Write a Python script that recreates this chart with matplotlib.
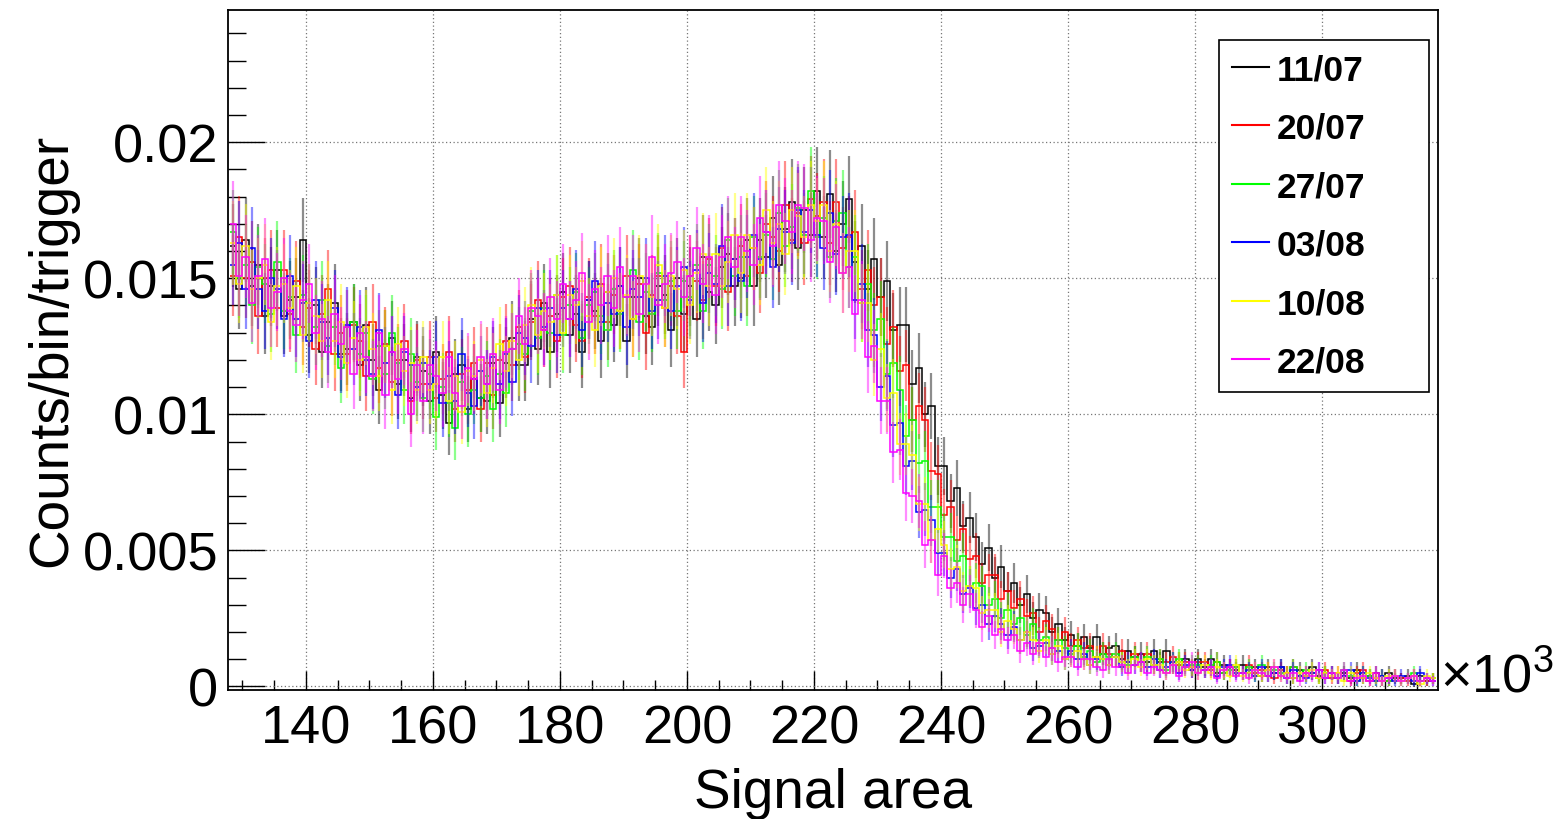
import numpy as np
import matplotlib
matplotlib.use('Agg')
import matplotlib.pyplot as plt
from matplotlib.lines import Line2D
from matplotlib.ticker import MultipleLocator, FuncFormatter

plt.rcParams['font.family'] = ['Liberation Sans', 'DejaVu Sans']
plt.rcParams['mathtext.fontset'] = 'custom'
plt.rcParams['mathtext.rm'] = 'Liberation Sans'

# binning of the signal area histograms (first bin edge, bin width)
bin_lo = 128000
bin_width = 1000

labels = ['11/07', '20/07', '27/07', '03/08', '10/08', '22/08']
colors = ['black', '#ff0000', '#00ff00', '#0000ff', '#ffff00', '#ff00ff']

# counts/bin/trigger, in units of 1e-4, one value per bin (128k .. 318k)
d_1107 = [162, 146, 164, 147, 155, 136, 147, 153, 136, 142,
          143, 164, 129, 140, 123, 134, 141, 122, 124, 134,
          118, 133, 120, 109, 125, 128, 111, 120, 106, 121,
          116, 105, 123, 107, 97, 115, 118, 102, 113, 106,
          105, 119, 104, 119, 128, 118, 118, 135, 124, 141,
          123, 137, 145, 129, 137, 123, 142, 138, 127, 145,
          133, 147, 127, 143, 150, 136, 132, 147, 144, 131,
          150, 137, 147, 135, 158, 145, 140, 154, 159, 147,
          150, 164, 147, 164, 158, 172, 155, 168, 178, 161,
          175, 166, 182,
          165, 181, 160, 170, 179, 156, 162, 146, 157, 143,
          149, 131, 133, 133, 111, 117, 100, 103, 81, 81,
          68, 73, 59, 62, 55, 45, 51, 40, 44, 35,
          38, 30, 34, 25, 28, 27, 20, 23, 17, 19,
          15, 18, 14, 18, 12, 14, 15, 10, 13, 11,
          12, 9, 13, 9, 13, 8, 9, 10, 7, 10,
          7, 10, 5, 8, 7, 6, 8, 5, 7, 4,
          7, 5, 7, 5, 3, 6, 4, 7, 4, 5,
          5, 3, 5, 3, 6, 3, 4, 5, 2, 5,
          3, 3, 4, 1, 4, 2, 3]

d_2007 = [151, 165, 150, 156, 136, 150, 153, 139, 153, 137,
          149, 132, 139, 124, 137, 146, 122, 130, 122, 133,
          127, 114, 134, 117, 126, 112, 120, 127, 105, 120,
          111, 121, 106, 113, 123, 102, 115, 109, 119, 102,
          119, 107, 120, 127, 118, 132, 121, 134, 142, 131,
          136, 127, 143, 147, 133, 127, 143, 136, 148, 134,
          144, 138, 151, 135, 148, 130, 144, 151, 139, 147,
          136, 123, 151, 149, 142, 157, 147, 161, 145, 157,
          162, 151, 161, 152, 170, 165, 160, 177, 164, 174,
          163, 179, 173,
          178, 163, 178, 161, 165, 167, 146, 153, 140, 143,
          126, 132, 116, 118, 98, 103, 98, 79, 78, 63,
          66, 54, 58, 47, 48, 38, 41, 41, 32, 35,
          29, 32, 26, 27, 20, 24, 21, 17, 20, 15,
          17, 14, 15, 11, 15, 12, 11, 13, 9, 12,
          9, 12, 8, 10, 9, 11, 8, 9, 6, 9,
          9, 6, 9, 5, 7, 7, 5, 8, 5, 6,
          6, 3, 6, 5, 7, 4, 5, 5, 3, 6,
          3, 5, 4, 2, 5, 6, 2, 3, 4, 2,
          4, 3, 2, 4, 2, 2, 3]

d_2707 = [167, 150, 155, 140, 154, 148, 137, 156, 138, 143,
          129, 144, 141, 132, 142, 125, 132, 117, 132, 134,
          122, 130, 113, 125, 115, 130, 119, 109, 122, 112,
          106, 115, 99, 110, 104, 95, 112, 100, 109, 106,
          114, 102, 115, 108, 124, 126, 122, 138, 128, 139,
          130, 144, 129, 140, 145, 128, 140, 145, 136, 131,
          146, 137, 143, 153, 134, 145, 137, 152, 142, 149,
          138, 149, 143, 155, 138, 155, 151, 146, 164, 151,
          158, 147, 165, 158, 166, 157, 174, 162, 169, 176,
          166, 182, 165,
          172, 158, 171, 174, 154, 158, 141, 148, 131, 135,
          115, 119, 109, 92, 98, 82, 83, 66, 66, 55,
          55, 46, 48, 37, 38, 37, 30, 32, 25, 28,
          23, 25, 19, 23, 17, 18, 14, 17, 14, 12,
          15, 11, 13, 9, 12, 11, 12, 9, 8, 11,
          9, 11, 8, 10, 6, 9, 10, 7, 8, 8,
          6, 8, 9, 5, 6, 7, 5, 7, 4, 8,
          4, 6, 5, 3, 7, 4, 6, 5, 3, 5,
          5, 3, 6, 4, 2, 5, 4, 2, 4, 2,
          4, 2, 3, 5, 2, 3, 3]

d_0308 = [155, 163, 146, 161, 146, 138, 150, 146, 135, 151,
          135, 141, 127, 142, 134, 128, 139, 121, 133, 124,
          132, 120, 115, 131, 119, 123, 107, 123, 118, 110,
          119, 111, 121, 104, 114, 105, 122, 108, 103, 116,
          111, 121, 111, 122, 112, 130, 128, 125, 139, 132,
          139, 129, 139, 135, 146, 131, 142, 149, 134, 141,
          137, 147, 132, 146, 143, 150, 138, 142, 151, 138,
          147, 154, 142, 153, 141, 152, 148, 162, 147, 157,
          149, 158, 166, 157, 167, 154, 168, 167, 163, 175,
          167, 175, 166,
          161, 174, 159, 165, 166, 142, 148, 131, 129, 110,
          114, 96, 97, 81, 83, 64, 65, 61, 49, 49,
          40, 43, 34, 36, 29, 30, 23, 26, 23, 19,
          22, 17, 20, 14, 15, 16, 12, 13, 10, 13,
          10, 12, 8, 10, 10, 8, 11, 7, 9, 8,
          9, 7, 10, 6, 7, 9, 5, 8, 6, 7,
          6, 7, 4, 7, 8, 5, 5, 6, 4, 7,
          4, 5, 7, 3, 6, 4, 3, 5, 6, 3,
          5, 3, 4, 6, 2, 5, 3, 2, 4, 3,
          2, 4, 3, 2, 5, 3, 2]

d_1008 = [163, 148, 162, 146, 150, 155, 134, 147, 148, 139,
          147, 129, 141, 136, 127, 142, 127, 134, 119, 128,
          120, 132, 124, 114, 125, 109, 126, 116, 119, 109,
          121, 109, 111, 121, 105, 114, 101, 116, 114, 120,
          108, 117, 126, 116, 127, 120, 133, 140, 129, 138,
          134, 144, 130, 144, 140, 149, 136, 131, 147, 145,
          150, 138, 144, 135, 151, 148, 143, 155, 139, 151,
          146, 153, 140, 152, 159, 147, 159, 147, 156, 166,
          152, 166, 161, 155, 175, 163, 170, 159, 175, 173,
          165, 177, 171,
          177, 160, 170, 152, 160, 160, 141, 141, 120, 124,
          106, 108, 89, 89, 85, 67, 67, 54, 58, 52,
          43, 44, 35, 37, 36, 27, 28, 28, 20, 24,
          21, 17, 20, 17, 13, 17, 12, 15, 10, 11,
          13, 10, 8, 11, 10, 8, 11, 9, 7, 10,
          7, 10, 8, 8, 5, 8, 9, 6, 7, 5,
          8, 5, 7, 6, 4, 8, 4, 5, 6, 4,
          6, 7, 4, 5, 3, 5, 4, 6, 3, 5,
          4, 5, 2, 5, 4, 3, 5, 3, 2, 4,
          4, 2, 3, 4, 1, 4, 3]

d_2208 = [170, 151, 158, 141, 151, 157, 139, 145, 150, 138,
          133, 142, 148, 130, 135, 123, 137, 126, 132, 115,
          130, 121, 114, 130, 107, 123, 113, 124, 100, 118,
          105, 118, 114, 108, 121, 108, 103, 117, 113, 121,
          111, 122, 109, 123, 124, 136, 126, 139, 136, 131,
          143, 135, 148, 135, 142, 152, 134, 146, 140, 151,
          139, 154, 143, 151, 137, 148, 158, 140, 148, 152,
          156, 143, 151, 161, 148, 158, 144, 158, 165, 154,
          165, 160, 155, 172, 167, 162, 177, 171, 167, 177,
          176, 164, 172,
          171, 156, 169, 152, 154, 137, 142, 121, 125, 105,
          105, 86, 87, 71, 70, 68, 52, 54, 41, 48,
          36, 38, 30, 34, 28, 22, 26, 19, 21, 17,
          19, 13, 16, 12, 16, 11, 14, 9, 11, 11,
          7, 10, 10, 7, 6, 10, 7, 8, 5, 8,
          9, 5, 7, 6, 5, 8, 4, 7, 9, 5,
          6, 7, 3, 6, 7, 4, 5, 3, 6, 5,
          4, 7, 4, 3, 5, 2, 5, 4, 6, 3,
          5, 3, 6, 2, 3, 4, 2, 5, 2, 3,
          4, 2, 3, 4, 2, 3, 2]

series = [d_1107, d_2007, d_2707, d_0308, d_1008, d_2208]

W, H = 1562, 820
fig = plt.figure(figsize=(W / 100, H / 100), dpi=100)
ax = fig.add_axes([228 / W, 1 - 690.7 / H, 1210 / W, 679.7 / H])

for i, (vals, col) in enumerate(zip(series, colors)):
    y = np.array(vals, dtype=float) * 1e-4
    edges = bin_lo + bin_width * np.arange(len(y) + 1)
    centres = 0.5 * (edges[1:] + edges[:-1])
    # statistical (poisson-like) uncertainty of each bin
    err = 0.012 * np.sqrt(y)
    ax.vlines(centres, y - err, y + err, color=col, alpha=0.45, lw=1.6,
              zorder=2 + 2 * i)
    ax.stairs(y, edges, color=col, lw=1.1, baseline=None, zorder=3 + 2 * i)

ax.set_xlim(127720, 318270)
ax.set_ylim(-0.00012, 0.02486)

ax.xaxis.set_major_locator(MultipleLocator(20000))
ax.xaxis.set_minor_locator(MultipleLocator(5000))
ax.yaxis.set_major_locator(MultipleLocator(0.005))
ax.yaxis.set_minor_locator(MultipleLocator(0.001))
ax.xaxis.set_major_formatter(FuncFormatter(lambda v, p: '%g' % (v / 1000)))
ax.yaxis.set_major_formatter(FuncFormatter(lambda v, p: '%g' % v))

ax.tick_params(axis='both', which='both', direction='in', top=False,
               right=False, color='black', width=1.0)
ax.tick_params(axis='y', which='major', length=26.5, labelsize=39, pad=7)
ax.tick_params(axis='y', which='minor', length=13)
ax.tick_params(axis='x', which='major', length=13.5, labelsize=39, pad=10)
ax.tick_params(axis='x', which='minor', length=7)

ax.grid(True, which='major', color='#777777', linestyle=(0, (1, 2)), lw=0.9)
ax.set_axisbelow(True)
for sp in ax.spines.values():
    sp.set_linewidth(1.3)

ax.set_xlabel('Signal area', fontsize=39.5, va='top')
ax.xaxis.set_label_coords(0.5, -0.113)
ax.set_ylabel('Counts/bin/trigger', fontsize=39.5)
ax.yaxis.set_label_coords(-0.124, 0.5)

fig.text(1440 / W, 1 - 692 / H, r'$\times10^{3}$', fontsize=39,
         ha='left', va='baseline')

handles = [Line2D([], [], color=c, lw=1.5) for c in colors]
leg = fig.legend(handles, labels, loc='upper left',
                 bbox_to_anchor=(1219 / W, 1 - 389 / H, 210 / W, 348 / H),
                 mode='expand', prop={'weight': 'bold', 'size': 25.5},
                 handlelength=1.05, handletextpad=0.2, labelspacing=0.72,
                 borderpad=0.37, borderaxespad=0, fancybox=False,
                 framealpha=1, edgecolor='black')
leg.get_frame().set_linewidth(1.2)

fig.savefig('out.png', dpi=100)
